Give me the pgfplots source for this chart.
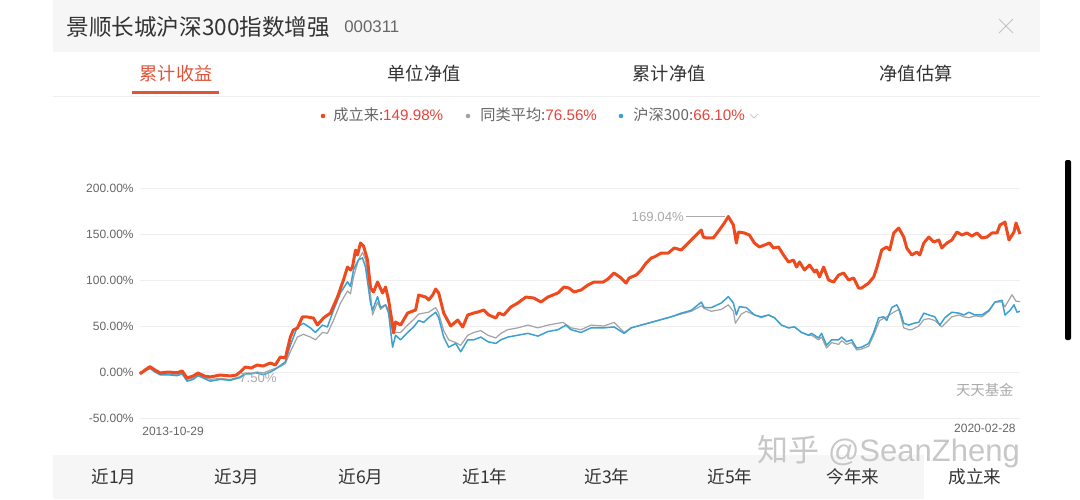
\documentclass[border=0pt]{standalone}
\usepackage{pgfplots}
\usepackage{pgfplotstable}
\pgfplotsset{compat=1.18}
\usepackage{fontspec}
\setmainfont{Liberation Sans}
\newfontfamily\cjk{Noto Sans CJK SC}
\definecolor{fundred}{HTML}{EE4A1E}
\definecolor{hsblue}{HTML}{3DA0D2}
\definecolor{avggray}{HTML}{A3A3A3}
\definecolor{txtgray}{HTML}{666666}
\definecolor{lblgray}{HTML}{AAAAAA}
\definecolor{barbg}{HTML}{F6F6F6}
\definecolor{gridc}{HTML}{EEEEEE}
\definecolor{valred}{HTML}{E8443A}
\definecolor{tabred}{HTML}{E0553A}
\definecolor{dark}{HTML}{333333}
\newcommand{\fs}[1]{\fontsize{#1}{#1}\selectfont}

\pgfplotstableread{
x y
0 0
1 -1.4
5 2.2
10 5.8
15 2.2
20 -1.1
28 0
37 -0.8
42 1.1
47 -6.5
53 -4.3
58 -1.1
64 -4.3
70 -5.4
80 -3.3
90 -4.3
96 -3.3
100 0
105 5.4
111 4.3
117 7.6
123 6.5
130 9.8
135 7.6
140 16.3
145 15.2
150 38
153 45.7
157 47.8
162 59.8
167 59.8
173 58.7
177 51.1
183 58.7
190 64.1
197 81.5
203 100
207 114.1
210 110.9
212 114.1
215 132.6
217 127.2
220 140.2
223 137
227 121.7
230 91.3
233 87
237 97.8
242 85.9
245 92.4
248 78.3
252 51.1
253 42.4
255 54.3
260 51.1
267 64.1
275 67.4
278 83.7
285 81.5
288 78.3
292 83.7
295 90.2
298 85.9
303 64.1
310 50
317 56.5
322 48.9
327 62
333 64.1
337 65.2
343 67.4
348 62
355 58.7
358 64.1
363 62
370 70.7
377 75
385 81.5
393 80.4
400 76.1
407 81.5
417 85.9
423 92.4
428 91.3
433 87
440 89.1
447 94.6
453 97.8
462 97.8
467 101.1
473 107.6
480 102.2
485 96.7
488 102.2
495 105.4
500 110.9
505 118.5
510 123.9
513 125
520 129.3
527 129.3
533 134.8
540 132.6
547 140.2
553 146.7
560 154.3
562 146.7
565 145.7
572 145.7
578 154.3
583 162
587 169.04
592 159.8
595 140.2
597 152.2
603 151.1
608 148.9
613 140.2
618 135.9
623 138
628 140.2
632 134.8
637 135.9
642 127.2
647 119.6
652 121.7
655 114.1
658 119.6
663 110.9
668 116.3
673 108.7
675 110.9
678 103.3
682 114.1
687 100
692 97.8
697 105.4
702 107.6
707 100
712 102.2
717 91.3
720 91.3
727 96.7
732 103.3
735 113
740 132.6
745 135.9
748 132.6
752 151.1
757 156.5
762 146.7
765 134.8
770 127.2
775 130.4
778 127.2
782 140.2
787 146.7
792 141.3
797 143.5
800 134.8
805 140.2
810 143.5
815 152.2
820 148.9
825 151.1
830 147.8
835 151.1
840 145.7
845 146.7
850 151.1
855 151.1
858 159.8
863 163
867 143.5
872 152.2
874 162
878 149.98
}\fundtable

\pgfplotstableread{
x y
0 0
1 -1
5 1
10 4
15 0
20 -3
28 -3
37 -4
42 -2
47 -10
53 -8
58 -4
64 -7
70 -10
80 -8
90 -9
100 -6
105 -2
111 -2
117 -1
123 -3
130 0
135 3
140 7
145 11
150 29
157 49
163 53
170 48
175 43
182 51
187 49
193 67
200 86
207 98
210 93
213 111
218 122
222 124
225 114
230 75
232 67
237 82
240 70
245 73
248 64
252 27
255 40
260 35
267 43
273 49
278 56
283 54
288 59
295 65
298 59
303 38
308 27
315 31
320 22
327 35
333 35
340 38
347 33
355 31
360 35
367 38
377 40
387 42
397 39
407 44
417 46
425 51
430 46
440 43
450 48
463 48
473 49
483 42
490 48
500 51
510 54
520 57
530 60
540 64
550 67
560 76
563 70
570 70
580 75
587 82
592 75
595 62
598 71
605 70
613 62
620 60
627 62
633 59
640 51
647 48
653 49
660 43
667 40
670 42
677 37
680 42
685 29
690 35
697 35
700 38
705 33
710 35
715 26
720 27
727 31
732 43
737 59
742 60
745 56
750 70
755 73
758 67
762 53
767 51
772 53
777 54
782 64
787 62
793 60
798 51
803 59
810 65
817 64
822 62
827 65
833 62
840 62
847 67
853 76
860 78
863 62
868 67
872 73
875 65
878 66.1
}\hstable

\pgfplotstableread{
x y
0 0
5 2
10 4
15 0
20 -2
28 -2
37 -3
42 -1
47 -8
53 -7
58 -3
64 -6
70 -8
80 -7
90 -8
100 -5
105 -1
111 -1
117 0
123 -1
130 2
135 4
140 6
145 9
150 22
157 38
163 41
170 38
175 35
182 43
187 42
193 56
200 75
207 88
210 85
213 103
218 122
222 130
225 122
230 85
232 62
237 76
240 68
245 73
248 68
252 43
255 43
260 43
267 51
273 57
278 63
283 64
288 65
295 70
298 64
303 45
308 35
315 32
320 29
327 40
333 43
340 45
347 40
355 37
360 42
367 46
377 48
387 51
397 48
407 51
417 53
422 54
430 48
440 46
450 51
463 50
473 54
483 43
490 48
500 51
510 54
520 57
530 60
540 63
550 66
560 72
563 69
570 66
580 68
587 73
592 66
594 53
600 63
605 66
613 62
620 59
627 62
633 59
640 51
647 48
653 49
660 43
667 40
670 40
677 35
680 38
685 26
690 32
697 30
700 34
705 30
710 32
715 24
720 25
727 28
732 40
738 56
745 60
752 65
757 68
762 48
767 46
770 46
777 50
782 57
787 58
793 56
800 49
810 60
817 62
822 60
827 59
833 61
840 60
847 66
853 76
860 76
863 71
870 84
874 77
878 76.56
}\avgtable

\begin{document}
\begin{tikzpicture}
% backgrounds
\begin{scope}[x=0.5pt,y=-0.5pt]
\path[use as bounding box] (0,0) rectangle (1080,499);
\fill[white] (0,0) rectangle (1080,499);
\fill[barbg] (53,0) rectangle (1040,52);
\fill[barbg] (53,455) rectangle (1040,499);
\fill[white] (924,455) rectangle (1040,499);
\draw[gridc, line width=0.4pt] (53,96) -- (1040,96);
\fill[tabred] (132,91) rectangle (219,94);
\fill[black, rounded corners=1pt] (1065,160) rectangle (1071,340);
\end{scope}

\begin{axis}[
  at={(70pt,-209pt)}, anchor=south west,
  scale only axis, width=440pt, height=115pt,
  xmin=0, xmax=878, ymin=-50, ymax=200,
  ytick={-50,0,50,100,150,200},
  xtick=\empty,
  axis line style={draw=none},
  major tick length=0pt,
  ymajorgrids, grid style={gridc, line width=0.5pt},
  /pgf/number format/assume math mode=true,
  yticklabel={\pgfmathprintnumber[fixed,fixed zerofill,precision=2]{\tick}\%},
  yticklabel style={font=\fs{6pt}, text=txtgray, inner sep=0pt, xshift=-3pt},
  clip=false,
]
\addplot[avggray, line width=0.6pt, line join=round] table[x=x,y=y] {\avgtable};
\addplot[hsblue, line width=0.75pt, line join=round] table[x=x,y=y] {\hstable};
\addplot[fundred, line width=1.5pt, line join=round] table[x=x,y=y] {\fundtable};
\draw[lblgray, line width=0.5pt] (axis cs:545,169.04) -- (axis cs:584,169.04);
\node[anchor=east, inner sep=0pt, text=lblgray] at (axis cs:543,169.04) {\fs{6.6pt}169.04\%};
\end{axis}

\begin{scope}[x=0.5pt,y=-0.5pt, every node/.style={inner sep=0pt}]
% header
\node[anchor=west, text=dark] at (66,27) {\cjk\fs{11.3pt}景顺长城沪深300指数增强};
\node[anchor=west, text=txtgray] at (344,27) {\fs{8.4pt}000311};
\draw[lblgray!70, line width=0.5pt] (999,19) -- (1013,33) (999,33) -- (1013,19);
% tabs
\node[text=tabred] at (176,74) {\cjk\fs{9.1pt}累计收益};
\node[text=dark] at (424,74) {\cjk\fs{9.1pt}单位净值};
\node[text=dark] at (669,74) {\cjk\fs{9.1pt}累计净值};
\node[text=dark] at (916,74) {\cjk\fs{9.1pt}净值估算};
% legend
\fill[fundred] (323,116) circle (2.3);
\node[anchor=west] at (333,115) {\fs{7.6pt}{\color{txtgray}\cjk 成立来:}{\color{valred}149.98\%}};
\fill[avggray] (468,116) circle (2.3);
\node[anchor=west] at (480,115) {\fs{7.6pt}{\color{txtgray}\cjk 同类平均:}{\color{valred}76.56\%}};
\fill[hsblue] (621,116) circle (2.3);
\node[anchor=west] at (633,115) {\fs{7.6pt}{\color{txtgray}\cjk 沪深300:}{\color{valred}66.10\%}};
\draw[lblgray!60, line width=0.4pt] (750,114) -- (754,118) -- (758,114);
% chart annotations
\node[text=lblgray] at (258,378) {\fs{6.6pt}7.50\%};
\node[anchor=east, text=lblgray] at (1014,390) {\cjk\fs{7.2pt}天天基金};
\node[anchor=west, text=txtgray] at (142,431) {\fs{6pt}2013-10-29};
\node[anchor=east, text=txtgray] at (1016,428) {\fs{6pt}2020-02-28};
% bottom tabs
\node[text=dark] at (114,477) {\cjk\fs{8.8pt}近1月};
\node[text=dark] at (237,477) {\cjk\fs{8.8pt}近3月};
\node[text=dark] at (361,477) {\cjk\fs{8.8pt}近6月};
\node[text=dark] at (485,477) {\cjk\fs{8.8pt}近1年};
\node[text=dark] at (607,477) {\cjk\fs{8.8pt}近3年};
\node[text=dark] at (730,477) {\cjk\fs{8.8pt}近5年};
\node[text=dark] at (853,477) {\cjk\fs{8.8pt}今年来};
\node[text=dark] at (975,477) {\cjk\fs{8.8pt}成立来};
% watermark
\node[anchor=west, text=black!22] at (757,452) {\fs{15.5pt}{\cjk 知乎} @SeanZheng};
\end{scope}
\end{tikzpicture}
\end{document}
